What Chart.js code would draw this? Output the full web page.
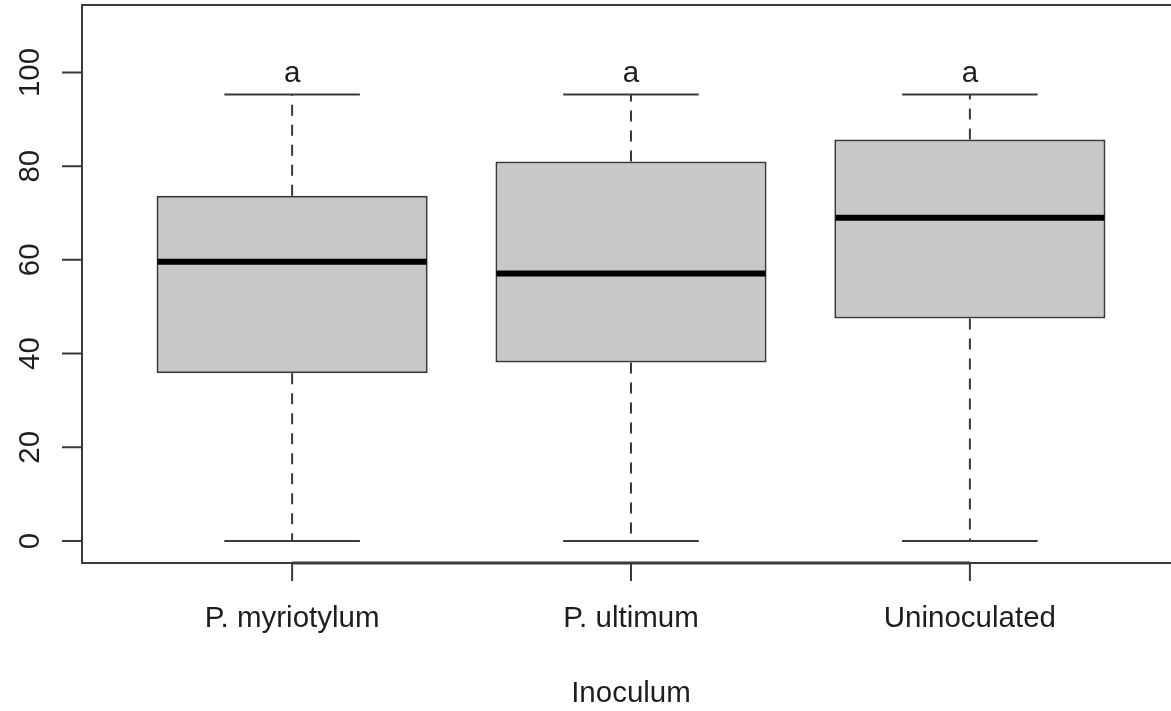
<!DOCTYPE html>
<html>
<head>
<meta charset="utf-8">
<title>Inoculum boxplot</title>
<script src="https://cdn.jsdelivr.net/npm/chart.js@4.4.0/dist/chart.umd.min.js"></script>
<style>
    html, body { margin: 0; padding: 0; background: #fff; overflow: hidden; }
    #wrap { width: 1190px; height: 711px; }
</style>
</head>
<body>
<div id="wrap"><canvas id="boxChart" width="1190" height="711"></canvas></div>
<script>
const categories = ['P. myriotylum', 'P. ultimum', 'Uninoculated'];
const whiskerLow = [0, 0, 0];
const q1 = [35.8, 38.1, 47.5];
const medians = [59.6, 57.1, 69.0];
const q3 = [73.7, 81.0, 85.7];
const whiskerHigh = [95.3, 95.3, 95.3];
const groupLetters = ['a', 'a', 'a'];
const letterLevel = 100;
const yTicks = [0, 20, 40, 60, 80, 100];
const xTitle = 'Inoculum';

const FONT = '29.5px "Liberation Sans", Arial, sans-serif';
const INK = '#1e1e1e';
const LINE = '#3a3a3a';

// whiskers, medians, letters, frame and axes drawn from the chart's own scales
const boxExtras = {
    id: 'boxExtras',
    beforeDatasetsDraw(chart) {
        const { ctx, scales: { x, y } } = chart;
        ctx.save();
        ctx.strokeStyle = LINE;
        ctx.lineWidth = 2;
        categories.forEach((c, i) => {
            const px = x.getPixelForValue(i + 1);
            ctx.setLineDash([11, 9]);
            ctx.beginPath();
            ctx.moveTo(px, y.getPixelForValue(q3[i]));
            ctx.lineTo(px, y.getPixelForValue(whiskerHigh[i]));
            ctx.moveTo(px, y.getPixelForValue(q1[i]));
            ctx.lineTo(px, y.getPixelForValue(whiskerLow[i]));
            ctx.stroke();
            ctx.setLineDash([]);
            ctx.beginPath();
            [whiskerHigh[i], whiskerLow[i]].forEach(v => {
                const py = y.getPixelForValue(v);
                ctx.moveTo(x.getPixelForValue(i + 0.8), py);
                ctx.lineTo(x.getPixelForValue(i + 1.2), py);
            });
            ctx.stroke();
        });
        ctx.restore();
    },
    afterDatasetsDraw(chart) {
        const { ctx, scales: { x, y } } = chart;
        ctx.save();
        ctx.strokeStyle = '#000';
        ctx.lineWidth = 6;
        categories.forEach((c, i) => {
            const py = y.getPixelForValue(medians[i]);
            ctx.beginPath();
            ctx.moveTo(x.getPixelForValue(i + 0.6) + 1, py);
            ctx.lineTo(x.getPixelForValue(i + 1.4) - 1, py);
            ctx.stroke();
        });
        ctx.fillStyle = INK;
        ctx.font = FONT;
        ctx.textAlign = 'center';
        ctx.textBaseline = 'alphabetic';
        groupLetters.forEach((l, i) => {
            ctx.fillText(l, x.getPixelForValue(i + 1), y.getPixelForValue(letterLevel) + 9.5);
        });
        ctx.restore();
    },
    afterDraw(chart) {
        const { ctx, chartArea: a, scales: { x, y } } = chart;
        ctx.save();
        ctx.strokeStyle = LINE;
        ctx.lineWidth = 2;
        ctx.strokeRect(a.left, a.top, a.right - a.left, a.bottom - a.top);

        // bottom axis
        ctx.lineWidth = 3;
        ctx.beginPath();
        ctx.moveTo(x.getPixelForValue(1), a.bottom);
        ctx.lineTo(x.getPixelForValue(categories.length), a.bottom);
        ctx.stroke();
        ctx.lineWidth = 2;
        ctx.beginPath();
        categories.forEach((c, i) => {
            const px = x.getPixelForValue(i + 1);
            ctx.moveTo(px, a.bottom);
            ctx.lineTo(px, a.bottom + 18);
        });
        yTicks.forEach(v => {
            const py = y.getPixelForValue(v);
            ctx.moveTo(a.left, py);
            ctx.lineTo(a.left - 20, py);
        });
        ctx.stroke();

        ctx.fillStyle = INK;
        ctx.font = FONT;
        ctx.textAlign = 'center';
        ctx.textBaseline = 'alphabetic';
        categories.forEach((c, i) => {
            ctx.fillText(c, x.getPixelForValue(i + 1), a.bottom + 64);
        });
        ctx.fillText(xTitle, (a.left + a.right) / 2, a.bottom + 139);

        yTicks.forEach(v => {
            ctx.save();
            ctx.translate(a.left - 43.5, y.getPixelForValue(v));
            ctx.rotate(-Math.PI / 2);
            ctx.fillText(String(v), 0, 0);
            ctx.restore();
        });
        ctx.restore();
    }
};

const ctx = document.getElementById('boxChart');
new Chart(ctx, {
    type: 'bar',
    data: {
        datasets: [{
            data: categories.map((c, i) => ({ x: i + 1, y: [q1[i], q3[i]] })),
            backgroundColor: '#c8c8c8',
            borderColor: LINE,
            borderWidth: 2,
            borderSkipped: false,
            barPercentage: 0.8,
            categoryPercentage: 1.0
        }]
    },
    options: {
        responsive: false,
        animation: false,
        events: [],
        layout: { padding: { left: 82, top: 5, right: 10, bottom: 148 } },
        plugins: { legend: { display: false }, tooltip: { enabled: false } },
        scales: {
            x: {
                type: 'linear', display: false, min: 0.38, max: 3.62, offset: false,
                afterBuildTicks: axis => { axis.ticks = categories.map((c, i) => ({ value: i + 1 })); }
            },
            y: { type: 'linear', display: false, min: -4.7, max: 114.4 }
        }
    },
    plugins: [boxExtras]
});
</script>
</body>
</html>
